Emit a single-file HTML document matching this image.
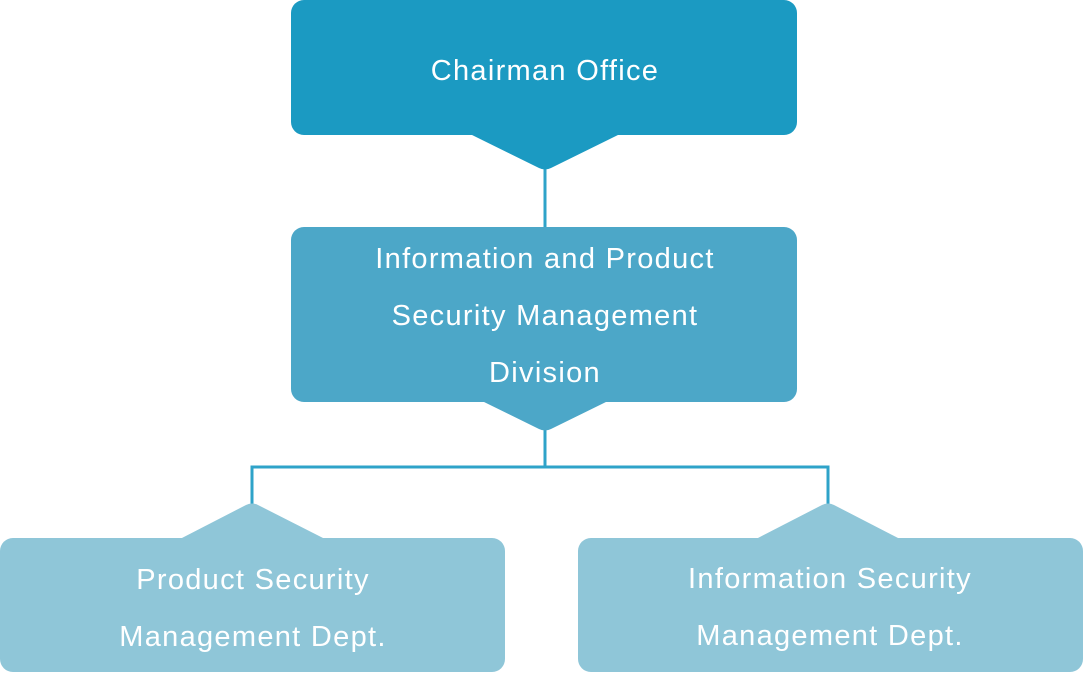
<!DOCTYPE html>
<html><head><meta charset="utf-8"><style>
html,body{margin:0;padding:0;background:#fff;}
svg{display:block;}
text{font-family:"Liberation Sans",sans-serif;font-size:29px;letter-spacing:1.3px;fill:#fff;text-anchor:middle;}
</style></head><body>
<svg width="1084" height="674" viewBox="0 0 1084 674">
<g stroke="#2fa3c9" stroke-width="3" fill="none">
<line x1="545" y1="165" x2="545" y2="230"/>
<line x1="545" y1="428" x2="545" y2="467"/>
<polyline points="252,506 252,467 828,467 828,506"/>
</g>
<rect x="291" y="0" width="506" height="135" rx="13" fill="#1b9ac2"/>
<path d="M470,134 L620,134 L551,168 Q545,171 539,168 Z" fill="#1b9ac2"/>
<text x="545" y="80">Chairman Office</text>
<rect x="291" y="227" width="506" height="175" rx="13" fill="#4ca7c8"/>
<path d="M482,401 L608,401 L551,429 Q545,432 539,429 Z" fill="#4ca7c8"/>
<text x="545" y="268">Information and Product</text>
<text x="545" y="325">Security Management</text>
<text x="545" y="382">Division</text>
<rect x="0" y="538" width="505" height="134" rx="13" fill="#8fc6d8"/>
<path d="M180,539 L325,539 L258,505 Q252,502 246,505 Z" fill="#8fc6d8"/>
<text x="253" y="589">Product Security</text>
<text x="253" y="646">Management Dept.</text>
<rect x="578" y="538" width="505" height="134" rx="13" fill="#8fc6d8"/>
<path d="M756,539 L900,539 L834,505 Q828,502 822,505 Z" fill="#8fc6d8"/>
<text x="830" y="588">Information Security</text>
<text x="830" y="645">Management Dept.</text>
</svg>
</body></html>
